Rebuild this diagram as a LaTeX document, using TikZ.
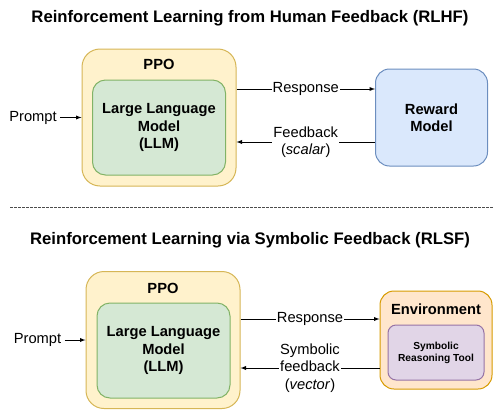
\documentclass[tikz,border=0pt]{standalone}
\usepackage{fontspec}
\setmainfont{Liberation Sans}

\definecolor{ppofill}{HTML}{FFF2CC}
\definecolor{ppodraw}{HTML}{D6B656}
\definecolor{llmfill}{HTML}{D5E8D4}
\definecolor{llmdraw}{HTML}{82B366}
\definecolor{rewardfill}{HTML}{DAE8FC}
\definecolor{rewarddraw}{HTML}{6C8EBF}
\definecolor{envfill}{HTML}{FFE6CC}
\definecolor{envdraw}{HTML}{D79B00}
\definecolor{toolfill}{HTML}{E1D5E7}
\definecolor{tooldraw}{HTML}{9673A6}

\begin{document}
\begin{tikzpicture}[> = latex, x = 1pt, y = -1pt,
	every node/.style = {font = \fontsize{14.7}{17.5}\selectfont},
	title/.style = {font = \bfseries\fontsize{16.7}{20}\selectfont},
	bold/.style = {font = \bfseries\fontsize{14.7}{17.5}\selectfont},
	box/.style = {draw, line width = 1pt, align = center, bold},
	ppo/.style = {box, fill = ppofill, draw = ppodraw, rounded corners = 18pt, minimum width = 154pt, minimum height = 137pt},
	llm/.style = {box, fill = llmfill, draw = llmdraw, rounded corners = 13pt, minimum width = 133pt, minimum height = 95pt},
	reward/.style = {box, fill = rewardfill, draw = rewarddraw, rounded corners = 14pt, minimum width = 112pt, minimum height = 97pt},
	env/.style = {box, fill = envfill, draw = envdraw, rounded corners = 14pt, minimum width = 112pt, minimum height = 98pt},
	tool/.style = {box, fill = toolfill, draw = tooldraw, rounded corners = 8pt, minimum width = 96pt, minimum height = 55pt, font = \bfseries\fontsize{10.2}{12}\selectfont},
	msg/.style = {fill = white, align = center, inner sep = 1pt}]

	\useasboundingbox (0, 0) rectangle (493, 410);

	% RLHF

	\node[title] (titleA) at (250, 18) {Reinforcement Learning from Human Feedback (RLHF)};

	\node[ppo] (ppoA) at (159, 117.5) {};
	\node[bold] (ppoAname) at (159, 64) {PPO};
	\node[llm] (llmA) at (159, 127.5) {Large Language\\Model\\(LLM)};
	\node[reward] (rewardA) at (431.5, 117.5) {Reward\\Model};
	\node (promptA) at (33, 117.5) {Prompt};

	\begin{scope}[->, line width = 0.9pt]

		\draw (promptA) -- (ppoA);
		\draw ([yshift = 28.5pt]ppoA.east) -- node [msg] {Response} ([yshift = 28.5pt]rewardA.west);
		\draw ([yshift = -24.5pt]rewardA.west) -- node [msg] {Feedback\\(\textit{scalar})} ([yshift = -24.5pt]ppoA.east);

	\end{scope}

	% Separator

	\coordinate (sepL) at (10, 207);
	\coordinate (sepR) at (493, 207);
	\draw[black!70, line width = 0.8pt, dash pattern = on 2.5pt off 1.5pt] (sepL) -- (sepR);

	% RLSF

	\node[title] (titleB) at (250, 240) {Reinforcement Learning via Symbolic Feedback (RLSF)};

	\node[ppo] (ppoB) at (163, 340) {};
	\node[bold] (ppoBname) at (163, 288) {PPO};
	\node[llm] (llmB) at (163.5, 350.5) {Large Language\\Model\\(LLM)};
	\node[env] (envB) at (436, 340) {};
	\node[bold] (envBname) at (436, 309) {Environment};
	\node[tool] (toolB) at (436, 352.5) {Symbolic\\Reasoning Tool};
	\node (promptB) at (37.5, 340) {Prompt};

	\begin{scope}[->, line width = 0.9pt]

		\draw (promptB) -- (ppoB);
		\draw ([yshift = 21pt]ppoB.east) -- node [msg] {Response} ([yshift = 21pt]envB.west);
		\draw ([yshift = -28pt]envB.west) -- node [msg] {Symbolic\\feedback\\(\textit{vector})} ([yshift = -28pt]ppoB.east);

	\end{scope}

\end{tikzpicture}
\end{document}
